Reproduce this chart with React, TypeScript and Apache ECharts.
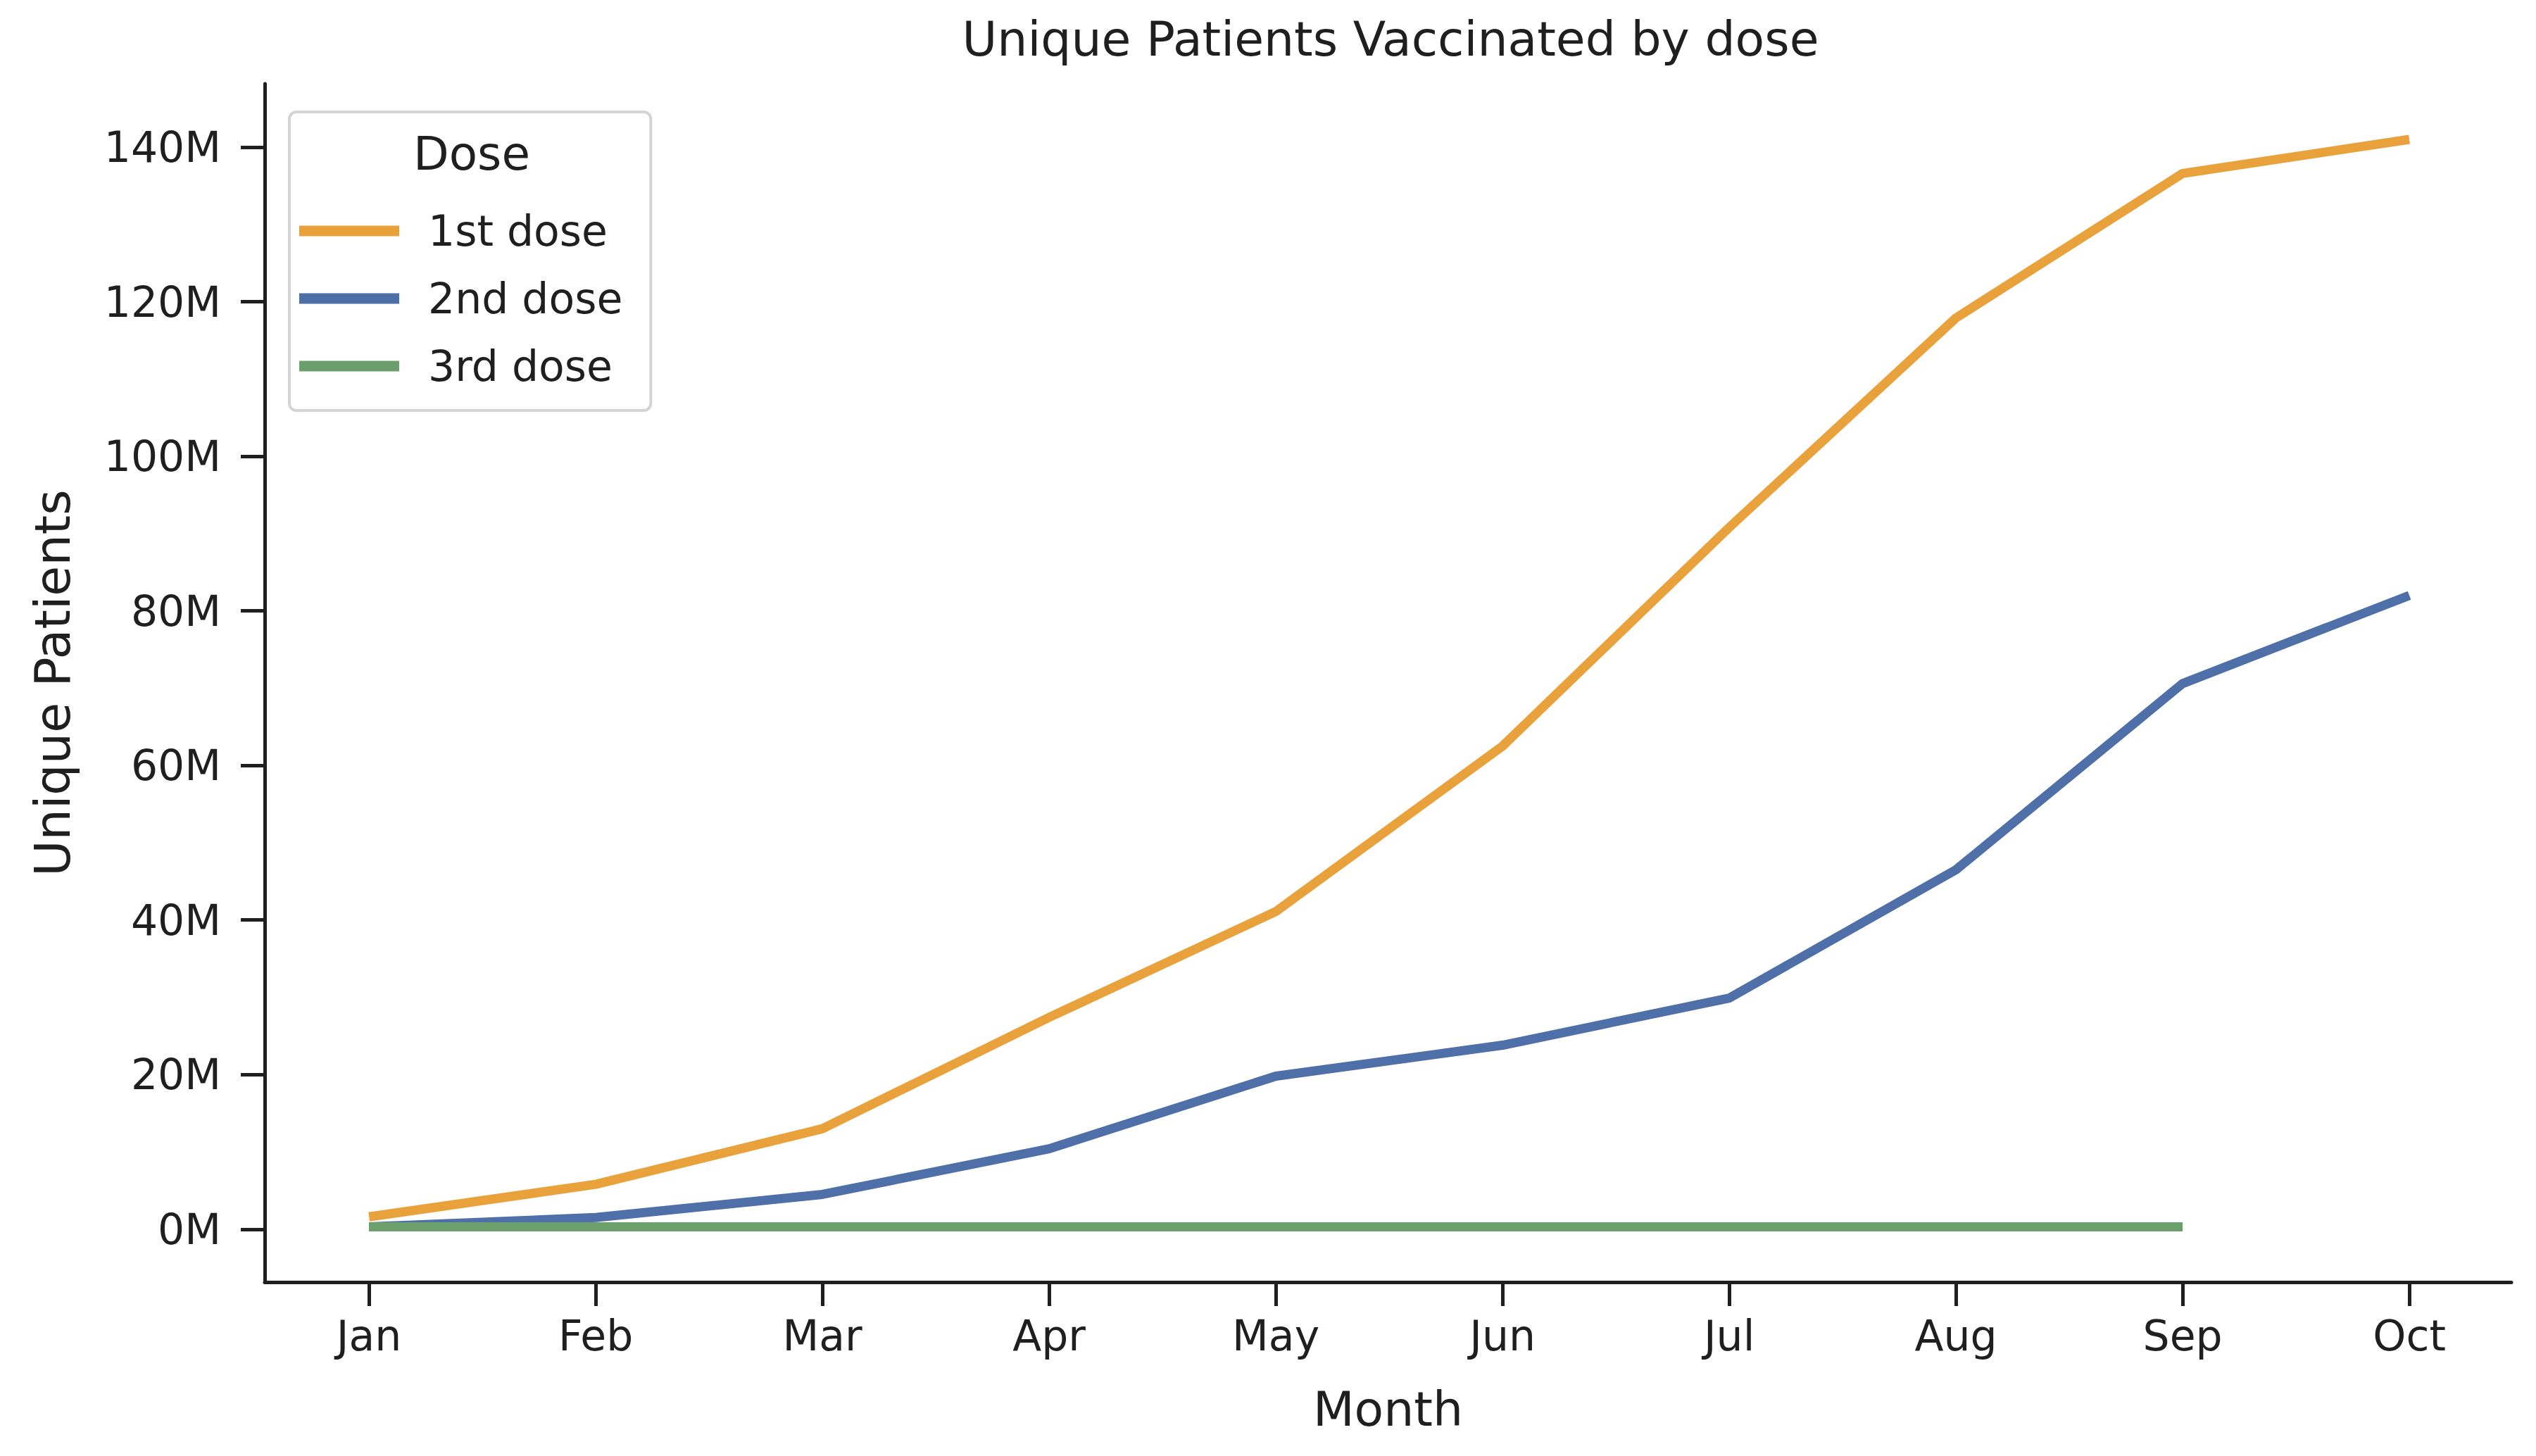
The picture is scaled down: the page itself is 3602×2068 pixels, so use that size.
import React, { useEffect, useRef } from "react";
import * as echarts from "echarts";

const months = ["Jan", "Feb", "Mar", "Apr", "May", "Jun", "Jul", "Aug", "Sep", "Oct"];
const dose1 = [1.6, 5.8, 13.0, 27.4, 41.1, 62.5, 90.8, 117.9, 136.6, 141.0];
const dose2 = [0.3, 1.5, 4.5, 10.4, 19.8, 23.8, 29.9, 46.5, 70.6, 82.0];
const dose3 = [0.3, 0.3, 0.3, 0.3, 0.3, 0.3, 0.3, 0.3, 0.3];
const seriesNames = ["1st dose", "2nd dose", "3rd dose"];
const seriesColors = ["#E9A23B", "#4E6FA8", "#6B9F6B"];
const yTicks = [0, 20, 40, 60, 80, 100, 120, 140];
const xTicks = months.map((_, i) => i);

const FONT = "'DejaVu Sans', sans-serif";
const INK = "#1f1f1f";

export default function App() {
  const ref = useRef<HTMLDivElement>(null);
  useEffect(() => {
    if (!ref.current) return;
    const chart = echarts.init(ref.current, null, { renderer: "svg" });
    const toPairs = (arr: number[]) => arr.map((v, i) => [i, v]);
    const allData = [dose1, dose2, dose3];
    chart.setOption({
      animation: false,
      backgroundColor: "#ffffff",
      textStyle: { fontFamily: FONT, color: INK },
      title: [
        {
          text: "Unique Patients Vaccinated by dose",
          left: 1970,
          top: 16,
          textAlign: "center",
          textStyle: { fontFamily: FONT, fontSize: 68, fontWeight: "normal", color: INK },
        },
        {
          text: "Dose",
          left: 665,
          top: 180,
          textAlign: "center",
          textStyle: { fontFamily: FONT, fontSize: 66, fontWeight: "normal", color: INK },
        },
      ],
      legend: {
        orient: "vertical",
        left: 411,
        top: 159,
        padding: [139, 40, 33, 14],
        itemGap: 36,
        itemWidth: 142,
        itemHeight: 15,
        icon: "rect",
        backgroundColor: "#ffffff",
        borderColor: "#d4d4d4",
        borderWidth: 4,
        borderRadius: 10,
        data: seriesNames,
        textStyle: {
          fontFamily: FONT,
          fontSize: 60,
          lineHeight: 60,
          color: INK,
          padding: [0, 0, 0, 36],
        },
      },
      grid: { left: 376, top: 119, right: 35, bottom: 247, containLabel: false },
      xAxis: {
        type: "value",
        min: -0.46,
        max: 9.45,
        name: "Month",
        nameLocation: "middle",
        nameGap: 146,
        nameTextStyle: { fontFamily: FONT, fontSize: 68, color: INK },
        splitLine: { show: false },
        axisLine: { show: true, onZero: false, lineStyle: { color: INK, width: 5 } },
        axisTick: { show: true, length: 34, lineStyle: { color: INK, width: 5 }, customValues: xTicks },
        axisLabel: {
          fontFamily: FONT,
          fontSize: 60,
          color: INK,
          margin: 46,
          customValues: xTicks,
          formatter: (v: number) => months[Math.round(v)] ?? "",
        },
      },
      yAxis: {
        type: "value",
        min: -6.85,
        max: 148.2,
        name: "Unique Patients",
        nameLocation: "middle",
        nameGap: 266,
        nameTextStyle: { fontFamily: FONT, fontSize: 70, color: INK },
        splitLine: { show: false },
        axisLine: { show: true, onZero: false, lineStyle: { color: INK, width: 5 } },
        axisTick: { show: true, length: 34, lineStyle: { color: INK, width: 5 }, customValues: yTicks },
        axisLabel: {
          fontFamily: FONT,
          fontSize: 60,
          color: INK,
          margin: 62,
          customValues: yTicks,
          formatter: (v: number) => `${v}M`,
        },
      },
      series: allData.map((arr, k) => ({
        name: seriesNames[k],
        type: "line",
        data: toPairs(arr),
        showSymbol: false,
        symbol: "none",
        color: seriesColors[k],
        lineStyle: { width: 13, color: seriesColors[k], cap: "butt", join: "round" },
      })),
    });
    return () => chart.dispose();
  }, []);
  return (
    <div
      ref={ref}
      style={{ position: "absolute", left: 0, top: 0, width: 3602, height: 2068 }}
    />
  );
}
